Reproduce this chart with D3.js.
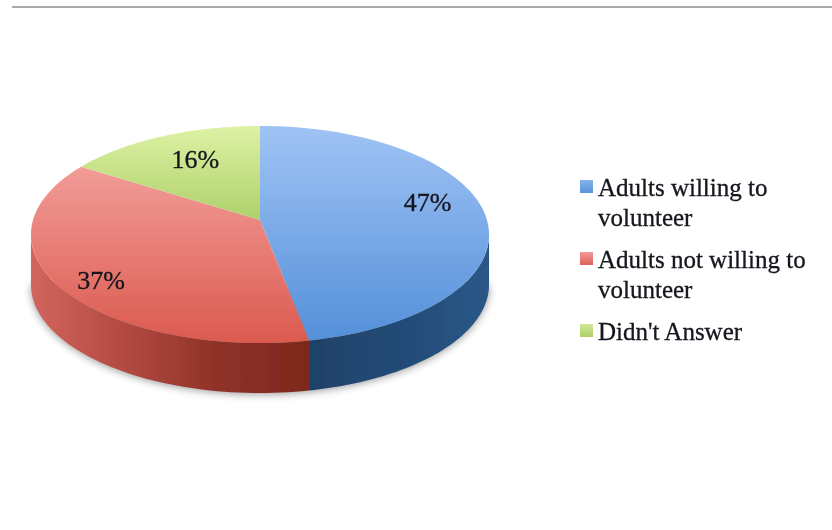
<!DOCTYPE html>
<html><head><meta charset="utf-8">
<script src="https://cdn.jsdelivr.net/npm/d3@7"></script>
<style>html,body{margin:0;background:#fff}svg{display:block}text{font-family:"Liberation Serif",serif;fill:#14141c;stroke:#14141c;stroke-width:0.3px}</style>
</head><body><svg id="c" width="832" height="530"></svg>
<script>
const categories = ["Adults willing to volunteer","Adults not willing to volunteer","Didn't Answer"];
const values = [47,37,16];
const legendLines = [["Adults willing to","volunteer"],["Adults not willing to","volunteer"],["Didn't Answer"]];

const topColors = [["#a0c3f5","#5490d9"],["#f29c98","#db5a4e"],["#ddf2a4","#aed06a"]];
const swatchColors = [["#86b2ec","#5a94da"],["#f09a96","#dd6058"],["#cfe895","#afd068"]];
const cx=260, cy=220, R=227, A=106.6, P=0.1336, depth=50;
const svg=d3.select("#c");
const defs=svg.append("defs");

function grad(id,stops,horizontal){
  const g=defs.append("linearGradient").attr("id",id)
    .attr("x1",0).attr("y1",0).attr("x2",horizontal?1:0).attr("y2",horizontal?0:1);
  stops.forEach((c,i)=>g.append("stop").attr("offset",i/(stops.length-1)).attr("stop-color",c));
}
topColors.forEach((c,i)=>grad("t"+i,c,false));
swatchColors.forEach((c,i)=>grad("s"+i,c,false));
grad("w0",["#1f4269","#234a76","#2a5888"],true);
grad("w1",["#d2655e","#b34a42","#8f3228","#7c281c"],true);
defs.append("filter").attr("id","blur").attr("x","-10%").attr("y","-10%").attr("width","120%").attr("height","130%")
  .append("feGaussianBlur").attr("stdDeviation",4);
defs.append("filter").attr("id","soft").append("feGaussianBlur").attr("stdDeviation",0.45);

// perspective projection of a point on the unit disc (angle clockwise from top)
function proj(a,f=1,dy=0){
  const u=Math.sin(a)*f, v=Math.cos(a)*f, s=1/(1+P*v);
  return [cx+R*u*s, cy-A*v*s+dy];
}
const line=d3.line();
const arcPts=(a0,a1,dy=0)=>d3.range(0,61).map(i=>proj(a0+(a1-a0)*i/60,1,dy));

const arcs=d3.pie().sort(null)(values);
const tau=2*Math.PI;
const rightEdge=Math.acos(-P), leftEdge=tau-Math.acos(-P);

const g=svg.append("g").attr("filter","url(#soft)");
// header rule
g.append("rect").attr("x",12).attr("y",6).attr("width",820).attr("height",2).attr("fill","#aaaaaa");

// soft ground shadow
g.append("path").attr("d",line(arcPts(rightEdge,leftEdge,depth+1))+"Z")
  .attr("fill","#000").attr("opacity",0.42).attr("filter","url(#blur)");

// side walls
[0,1].forEach(i=>{
  const a0=Math.max(arcs[i].startAngle,rightEdge), a1=Math.min(arcs[i].endAngle,leftEdge);
  const pts=arcPts(a0,a1,0).concat(arcPts(a1,a0,depth));
  g.append("path").attr("d",line(pts)+"Z").attr("fill",`url(#w${i})`);
});

// top faces
arcs.forEach((d,i)=>{
  const pts=[[cx,cy]].concat(arcPts(d.startAngle,d.endAngle));
  g.append("path").attr("d",line(pts)+"Z").attr("fill",`url(#t${i})`);
});

// percent labels
const labelNudge=[[4,-10],[-14,15],[9,3]];
arcs.forEach((d,i)=>{
  const p=proj((d.startAngle+d.endAngle)/2,0.73);
  g.append("text").attr("x",p[0]+labelNudge[i][0]).attr("y",p[1]+labelNudge[i][1]+8)
   .attr("text-anchor","middle").attr("font-size",26).text(d.data+"%");
});

// legend
const legendTops=[196,268,340];
const lineGap=30;
categories.forEach((c,i)=>{
  const y=legendTops[i];
  g.append("rect").attr("x",580).attr("y",y-16).attr("width",13).attr("height",13)
    .attr("fill",`url(#s${i})`);
  legendLines[i].forEach((t,j)=>g.append("text").attr("x",598).attr("y",y+j*lineGap)
    .attr("font-size",25).text(t));
});
</script></body></html>
